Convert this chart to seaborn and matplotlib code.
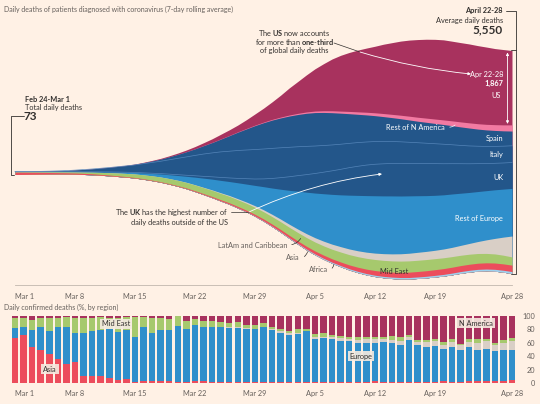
import numpy as np
import pandas as pd
import matplotlib
matplotlib.use("Agg")
import matplotlib.pyplot as plt
import seaborn as sns

# ---- daily deaths, 7-day rolling average, Mar 1 .. Apr 28 ----
# stream layers, listed bottom -> top
africa = [0] * 18 + [1, 1, 2, 2, 3, 4, 5, 6, 7, 8, 9, 10, 12, 14, 16, 18, 20, 22, 24, 26,
                     28, 30, 31, 32, 33, 34, 35, 36, 37, 38, 39, 40, 41, 42, 43, 44, 45, 46, 47, 48, 49]
asia = [60, 55, 50, 45, 40, 36, 33, 30, 28, 25, 22, 20, 18, 16, 15, 14, 14, 14, 15, 16,
        18, 20, 22, 25, 28, 31, 34, 37, 41, 46, 51, 56, 61, 66, 71, 76, 81, 86, 91, 97,
        104, 111, 118, 122, 126, 130, 134, 137, 140, 143, 146, 148, 150, 152, 154, 156, 158, 160, 162]
mid_east = [8, 10, 12, 14, 16, 19, 22, 26, 32, 40, 50, 60, 70, 78, 88, 98, 108, 117, 125, 132,
            138, 144, 150, 155, 160, 164, 168, 172, 176, 182, 188, 195, 202, 210, 218, 225, 232, 241, 250, 258,
            265, 272, 277, 280, 282, 283, 283, 282, 280, 277, 272, 266, 259, 252, 244, 236, 228, 218, 205]
latam = [0] * 17 + [1, 2, 3, 4, 6, 8, 11, 15, 20, 26, 32, 40, 48, 57, 66, 76, 86, 97, 108, 118,
                    127, 135, 142, 148, 154, 160, 168, 176, 184, 192, 200, 205, 210, 220, 232, 248,
                    270, 300, 340, 390, 455, 525]
rest_europe = [1, 1, 2, 2, 3, 4, 5, 6, 8, 10, 13, 17, 22, 28, 35, 45, 58, 75, 95, 120,
               150, 190, 230, 270, 310, 350, 400, 450, 510, 580, 660, 750, 850, 950, 1040, 1120, 1190, 1250, 1300, 1350,
               1390, 1420, 1440, 1450, 1455, 1450, 1440, 1420, 1400, 1380, 1360, 1340, 1310, 1280, 1255, 1235, 1220, 1205, 1195]
uk = [0] * 10 + [1, 1, 2, 3, 3, 5, 7, 10, 15, 20, 27, 35, 45, 58, 75, 90, 110, 135, 160, 195,
                 240, 290, 340, 390, 440, 490, 540, 590, 640, 690, 730, 765, 790, 805, 815, 820, 815, 810, 805, 795,
                 780, 760, 740, 720, 700, 680, 665, 655, 650]
italy = [4, 5, 7, 10, 14, 20, 28, 40, 55, 70, 90, 110, 135, 160, 190, 230, 270, 310, 360, 410,
         460, 510, 560, 600, 640, 670, 700, 720, 740, 750, 755, 750, 740, 725, 710, 690, 670, 650, 630, 610,
         595, 580, 570, 560, 550, 540, 530, 520, 510, 500, 490, 475, 460, 448, 438, 430, 425, 422, 420]
spain = [0] * 10 + [2, 3, 5, 9, 15, 25, 38, 55, 75, 100, 130, 165, 210, 260, 320, 390, 460, 530, 600, 660,
                    710, 750, 785, 810, 830, 840, 830, 810, 780, 745, 710, 680, 650, 625, 600, 580, 560, 540, 525, 510,
                    495, 480, 465, 450, 430, 415, 400, 385, 370]
rest_n_america = [0] * 18 + [1, 1, 2, 3, 4, 5, 6, 7, 9, 11, 13, 15, 18, 21, 25, 29, 33, 38, 43, 48,
                             52, 57, 62, 67, 72, 77, 82, 88, 95, 100, 105, 110, 115, 120, 125, 130, 135, 140,
                             145, 150, 155]
us = [0, 0, 1, 1, 1, 1, 2, 2, 2, 3, 3, 4, 5, 6, 8, 10, 14, 18, 24, 32,
      42, 55, 70, 90, 115, 140, 170, 220, 280, 350, 440, 550, 680, 800, 930, 1060, 1180, 1300, 1400, 1480,
      1550, 1610, 1670, 1740, 1800, 1860, 1910, 1950, 1980, 2000, 2010, 2000, 1990, 1980, 1960, 1940, 1910, 1890, 1867]

# ---- daily confirmed deaths, % by region ----
pct_asia = [67, 71, 53, 49, 43, 36, 29, 32, 11, 10, 11, 7, 4, 6, 2, 3, 3, 3, 3, 2,
            2, 3, 3, 2, 2, 2, 2, 2, 2, 2, 2, 2, 2, 2, 2, 2, 2, 2, 2, 2,
            2, 2, 3, 2, 2, 2, 2, 2, 2, 2, 3, 2, 2, 3, 3, 3, 3, 3, 4]
pct_europe = [15, 12, 26, 35, 35, 47, 54, 43, 64, 67, 68, 73, 72, 73, 67, 80, 72, 76, 76, 83,
              78, 83, 80, 82, 81, 80, 80, 79, 78, 81, 77, 73, 70, 71, 75, 63, 65, 63, 61, 60,
              58, 58, 57, 59, 58, 55, 62, 54, 52, 53, 48, 52, 48, 50, 47, 48, 45, 47, 46]
pct_latam = [0] * 24 + [1, 1, 1, 1, 1, 1, 1, 3, 2, 2, 1, 3, 2, 3, 4, 4, 4, 5, 5, 4,
                        4, 5, 5, 5, 7, 7, 6, 7, 6, 8, 10, 11, 9, 10, 13]
pct_mid_east = [15, 14, 15, 13, 19, 14, 15, 22, 22, 20, 19, 17, 21, 19, 29, 15, 22, 18, 17, 15,
                12, 10, 9, 9, 7, 7, 8, 5, 5, 5, 4, 3, 4, 5, 2, 5, 5, 4, 3, 3,
                4, 3, 4, 4, 6, 6, 3, 3, 3, 4, 4, 4, 2, 4, 5, 4, 3, 4, 4]
pct_n_america = [3, 3, 6, 3, 3, 3, 2, 3, 3, 3, 2, 3, 3, 2, 2, 2, 3, 3, 4, 0,
                 8, 4, 8, 7, 9, 10, 9, 13, 14, 11, 16, 19, 22, 20, 20, 27, 26, 28, 30, 31,
                 32, 32, 31, 31, 30, 32, 28, 36, 36, 34, 39, 35, 42, 35, 35, 34, 40, 36, 33]

tick_days = [0, 7, 14, 21, 28, 35, 42, 49, 58]
tick_labels = ["Mar 1", "Mar 8", "Mar 15", "Mar 22", "Mar 29", "Apr 5", "Apr 12", "Apr 19", "Apr 28"]

BG = "#fff1e5"
INK = "#33302e"
GREY = "#66605c"
AXIS = "#c2b7ad"
stream_colors = ["#9dd2ef", "#ec4d5c", "#a6c96d", "#d9cfc6", "#2f8fcb",
                 "#23568a", "#23568a", "#23568a", "#f27aa2", "#a8325e"]
FS = 5.3


def wiggle_offset(layers):
    """d3.stackOffsetWiggle baseline"""
    n, m = layers.shape
    base = np.zeros(m)
    y = 0.0
    for j in range(1, m):
        s1 = s2 = 0.0
        for i in range(n):
            s3 = (layers[i, j] - layers[i, j - 1]) / 2
            for k in range(i):
                s3 += layers[k, j] - layers[k, j - 1]
            s1 += layers[i, j]
            s2 += s3 * layers[i, j]
        base[j - 1] = y
        if s1:
            y -= s2 / s1
    base[m - 1] = y
    return base


sns.set_theme(style="white", rc={"axes.facecolor": BG, "figure.facecolor": BG,
                                 "savefig.facecolor": BG})
plt.rcParams["font.family"] = ["Lato", "DejaVu Sans"]
plt.rcParams["mathtext.fontset"] = "custom"
plt.rcParams["mathtext.rm"] = "Lato"
plt.rcParams["mathtext.bf"] = "Lato:bold"

W, H = 540, 404
fig = plt.figure(figsize=(W / 100, H / 100), dpi=100)

X0, DX = 15.0, 497.0 / 58     # pixel of Mar 1, pixels per day
Y0, DPP = 174.5, 25.1         # pixel of zero baseline, deaths per pixel


def fx(px):
    return (px - X0) / DX


def py(v):
    return Y0 - v / DPP


# ---------------- stream graph ----------------
ax = fig.add_axes([0, 1 - 285 / H, 1, 285 / H])
ax.patch.set_alpha(0)
vals = np.array([africa, asia, mid_east, latam, rest_europe, uk, italy, spain,
                 rest_n_america, us], dtype=float)
days = np.arange(vals.shape[1])
base = wiggle_offset(vals)
tops = base + np.cumsum(vals, axis=0)
for i in range(len(vals) - 1, -1, -1):
    ax.fill_between(days, base, tops[i], color=stream_colors[i], lw=0)
for i in (5, 6):
    sns.lineplot(x=days, y=tops[i], ax=ax, color="#5485b9", lw=0.5)

ax.set_xlim(fx(0), fx(W))
ax.set_ylim((Y0 - 285) * DPP, Y0 * DPP)
for s in ("top", "left", "right"):
    ax.spines[s].set_visible(False)
ax.spines["bottom"].set_color(AXIS)
ax.spines["bottom"].set_linewidth(0.6)
ax.spines["bottom"].set_bounds(days[0], days[-1])
ax.set_yticks([])
ax.set_xticks(tick_days)
ax.set_xticklabels(tick_labels)
ax.set_xticks(days, minor=True)
ax.tick_params(axis="x", which="major", length=3.5, width=0.5, color=AXIS,
               labelsize=FS, labelcolor=GREY, pad=2)
ax.tick_params(axis="x", which="minor", length=2, width=0.4, color=AXIS)
ax.get_xticklabels()[0].set_ha("left")
ax.set_xlabel("")
ax.set_ylabel("")

# ---------------- stacked bars ----------------
bx = fig.add_axes([0, (H - 383) / H, 518 / W, 67 / H])
bx.patch.set_alpha(0)
bar_regions = ["N America", "Mid East", "LatAm", "Europe", "Asia"]
bar_df = pd.DataFrame({
    "day": np.tile(days, 5),
    "pct": np.concatenate([pct_n_america, pct_mid_east, pct_latam, pct_europe, pct_asia]),
    "region": np.repeat(bar_regions, len(days)),
})
sns.histplot(data=bar_df, x="day", weights="pct", hue="region", hue_order=bar_regions,
             palette=["#a8325e", "#a6c96d", "#d9cfc6", "#2f8fcb", "#ec4d5c"],
             multiple="stack", discrete=True, shrink=0.76, alpha=1, linewidth=0,
             legend=False, ax=bx)
bx.set_xlim(fx(0), fx(518))
bx.set_ylim(0, 100)
for s in ("top", "left", "right", "bottom"):
    bx.spines[s].set_visible(False)
bx.set_xticks(tick_days)
bx.set_xticklabels(tick_labels)
bx.set_xticks(days, minor=True)
bx.tick_params(axis="x", which="major", length=3, width=0.5, color=AXIS,
               labelsize=FS, labelcolor=GREY, pad=2)
bx.tick_params(axis="x", which="minor", length=1.5, width=0.4, color=AXIS)
bx.get_xticklabels()[0].set_ha("left")
bx.yaxis.tick_right()
bx.set_yticks([0, 20, 40, 60, 80, 100])
bx.tick_params(axis="y", length=0, labelsize=FS, labelcolor=GREY, pad=12.5)
for t in bx.get_yticklabels():
    t.set_ha("right")
bx.set_xlabel("")
bx.set_ylabel("")

# ---------------- annotations (pixel coordinates) ----------------
ov = fig.add_axes([0, 0, 1, 1], zorder=5)
ov.set_xlim(0, W)
ov.set_ylim(H, 0)
ov.axis("off")
ov.patch.set_alpha(0)


def txt(x, y, s, size=FS, color=INK, ha="left", weight="normal", **kw):
    ov.text(x, y, s, fontsize=size, color=color, ha=ha, va="center",
            fontweight=weight, **kw)


txt(4, 9, "Daily deaths of patients diagnosed with coronavirus (7-day rolling average)",
    size=5.0, color=GREY)
txt(4, 307, "Daily confirmed deaths (%, by region)", size=5.0, color=GREY)

# left bracket
y_start = py(base[0])
ov.plot([24, 11, 11, 14], [116, 116, y_start, y_start], color=INK, lw=0.6)
txt(25, 99, "Feb 24-Mar 1", weight="bold")
txt(25, 107.5, "Total daily deaths")
txt(24, 117, "73", size=8.5, weight="bold")

# right bracket
y_top_end = py(tops[-1][-1])
y_bot_end = py(base[-1])
ov.plot([506, 516, 516, 511], [10.5, 10.5, y_bot_end, y_bot_end], color=INK, lw=0.6)
ov.plot([511, 516], [y_top_end, y_top_end], color=INK, lw=0.6)
txt(503, 11, "April 22-28", ha="right", weight="bold")
txt(503, 20, "Average daily deaths", ha="right")
txt(503, 30, "5,550", size=8.5, ha="right", weight="bold")

# US share
y_us_bot = py(tops[8][-1])
ov.annotate("", xy=(507.5, y_top_end + 2), xytext=(507.5, y_us_bot - 1),
            arrowprops=dict(arrowstyle="<|-|>", color="white", lw=0.6,
                            mutation_scale=4, shrinkA=0, shrinkB=0))
txt(294, 33, r"The $\bf{US}$ now accounts", ha="center")
txt(294, 42, r"for more than $\bf{one}$-$\bf{third}$", ha="center")
txt(294, 51, "of global daily deaths", ha="center")
ov.plot([334, 360], [43, 52], color=INK, lw=0.5)
ov.annotate("", xy=(471, 74), xytext=(360, 52),
            arrowprops=dict(arrowstyle="-|>", color="white", lw=0.6, mutation_scale=4,
                            shrinkA=0, shrinkB=0, connectionstyle="arc3,rad=0.05"))
txt(503, 75, "Apr 22-28", ha="right", color="white")
txt(503, 83.5, "1,867", ha="right", color="white", weight="bold")
txt(501, 95, "US", ha="right", color="white")

# UK
txt(228, 213, r"The $\bf{UK}$ has the highest number of", ha="right")
txt(228, 222, "daily deaths outside of the US", ha="right")
ov.plot([231, 249], [212, 212], color=INK, lw=0.5)
ov.annotate("", xy=(382, 174), xytext=(249, 212),
            arrowprops=dict(arrowstyle="-|>", color="white", lw=0.6, mutation_scale=4,
                            shrinkA=0, shrinkB=0, connectionstyle="arc3,rad=-0.08"))

# in-stream labels
txt(445, 127, "Rest of N America", ha="right", color="white")
ov.annotate("", xy=(457, 123), xytext=(447, 127),
            arrowprops=dict(arrowstyle="-", color="white", lw=0.5,
                            connectionstyle="arc3,rad=0.3"))
txt(503, 139, "Spain", ha="right", color="white")
txt(503, 155, "Italy", ha="right", color="white")
txt(503, 178, "UK", ha="right", color="white")
txt(503, 218, "Rest of Europe", ha="right", color="white")
txt(394, 271, "Mid East", ha="center", color=INK)

# outside labels
txt(287, 245, "LatAm and Caribbean", ha="right", color=GREY)
ov.annotate("", xy=(302, 236), xytext=(289, 245),
            arrowprops=dict(arrowstyle="-", color=INK, lw=0.5,
                            connectionstyle="arc3,rad=0.3"))
txt(300, 258, "Asia", ha="right", color=GREY)
ov.annotate("", xy=(308, 249), xytext=(302, 258),
            arrowprops=dict(arrowstyle="-", color=INK, lw=0.5,
                            connectionstyle="arc3,rad=0.3"))
txt(328, 270, "Africa", ha="right", color=GREY)
ov.annotate("", xy=(334, 262), xytext=(330, 270),
            arrowprops=dict(arrowstyle="-", color=INK, lw=0.5,
                            connectionstyle="arc3,rad=0.3"))

# bar chart labels
box = dict(boxstyle="square,pad=0.25", fc="#f6ebe1", ec="none", alpha=0.9)
txt(116, 324, "Mid East", ha="center", bbox=box)
txt(50, 369, "Asia", ha="center", bbox=box)
txt(361, 356, "Europe", ha="center", bbox=box)
txt(476, 323, "N America", ha="center", bbox=box)

fig.savefig("out.png", dpi=100, facecolor=BG)
